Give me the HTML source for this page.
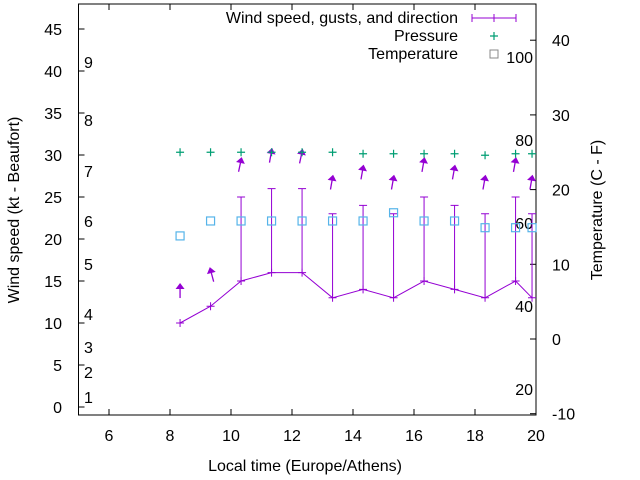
<!DOCTYPE html>
<html><head><meta charset="utf-8"><style>
body{margin:0;background:#fff}
svg{display:block;font-family:"Liberation Sans",sans-serif;font-size:16px}
</style></head><body>
<svg id="c" width="640" height="480" viewBox="0 0 640 480"></svg>
<script>
const times=[8.33,9.33,10.33,11.33,12.33,13.33,14.33,15.33,16.33,17.33,18.33,19.33,19.87];
const windSpeed=[10,12,15,16,16,13,14,13,15,14,13,15,13];
const gusts=[null,null,25,26,26,23,24,23,25,24,23,25,23];
const arrowLevel=[14.4,16.3,29.4,30.5,30.4,27.3,28.5,27.3,29.4,28.5,27.3,29.4,27.3];
const arrowTilt=[0,-15,12,10,12,10,10,10,10,10,10,10,10];
const pressure=[25,25,25,25,25,25,24.8,24.8,24.8,24.8,24.6,24.8,24.8];
const temperature=[13.8,15.8,15.8,15.8,15.8,15.8,15.8,16.9,15.8,15.8,14.9,14.9,14.9];
const xTicks=[6,8,10,12,14,16,18,20];
const yTicks=[0,5,10,15,20,25,30,35,40,45];
const y2Ticks=[-10,0,10,20,30,40];
const beaufortLabels=[["1",397],["2",372],["3",347],["4",314],["5",264],["6",221],["7",171],["8",120],["9",62]];
const fahrLabels=["20","40","60","80","100"];
const fahrVals=[20,40,60,80,100];

const L=78.5,R=536,T=4,B=415;
const X=v=>L+(v-5)*30.5;
const Y=v=>407-v*8.4;
const Y2=v=>339-v*7.47;
const F2Y=f=>Y2((f-32)*5/9);
const svg=document.getElementById('c');
const NS='http://www.w3.org/2000/svg';
function mk(t,a,p){const e=document.createElementNS(NS,t);for(const k in a)e.setAttribute(k,a[k]);(p||svg).appendChild(e);return e;}
function txt(s,x,y,anchor){const e=mk('text',{x:x,y:y,'text-anchor':anchor||'start',fill:'#000'});e.textContent=s;return e;}

const frame=mk('rect',{x:L,y:T,width:R-L,height:B-T,fill:'none',stroke:'#000','stroke-width':1});



xTicks.forEach(v=>{
 const x=X(v);
 mk('line',{x1:x,y1:B,x2:x,y2:B-6,stroke:'#000'});
 mk('line',{x1:x,y1:T,x2:x,y2:T+6,stroke:'#000'});
 const t=txt(String(v),x,441,'middle');
 
 
});
yTicks.forEach(v=>{
 const y=Y(v);
 mk('line',{x1:L,y1:y,x2:L+6,y2:y,stroke:'#000'});
 const t=txt(String(v),62,y+6,'end');
 
 
});
y2Ticks.forEach(v=>{
 const y=Y2(v);
 mk('line',{x1:R,y1:y,x2:R-6,y2:y,stroke:'#000'});
 const t=txt(String(v),552,y+6,'start');
 
 
});
beaufortLabels.forEach(b=>{
 const t=txt(b[0],84,b[1]+6,'start');
 
 
});
fahrVals.forEach((f,i)=>{
 const t=txt(fahrLabels[i],533,F2Y(f)+6,'end');
 
 
});

let yl=txt('Wind speed (kt - Beaufort)',0,0,'middle');
yl.setAttribute('transform','translate(19,210) rotate(-90)');


let y2l=txt('Temperature (C - F)',0,0,'middle');
y2l.setAttribute('transform','translate(602,210) rotate(-90)');


let xl=txt('Local time (Europe/Athens)',305,471,'middle');



const WC='#9400d3',PC='#009e73',TC='#56b4e9';
const pts=times.map((t,i)=>X(t)+','+Y(windSpeed[i])).join(' ');
const wl=mk('polyline',{points:pts,fill:'none',stroke:WC,'stroke-width':1});


times.forEach((t,i)=>{
 const x=X(t),y=Y(windSpeed[i]);
 const g=mk('g',{});
 
 
 mk('path',{d:`M${x-4} ${y}h8M${x} ${y-4}v8`,stroke:WC},g);
 if(gusts[i]!=null){
  const gy=Y(gusts[i]);
  const eb=mk('path',{d:`M${x} ${y}V${gy}M${x-4} ${gy}h8`,stroke:WC,fill:'none'});
  
  
 }
 const ay=Y(arrowLevel[i]);
 const a=mk('g',{transform:`translate(${x},${ay}) rotate(${arrowTilt[i]})`});
 
 
 mk('line',{x1:0,y1:2,x2:0,y2:12,stroke:WC,'stroke-width':1.3},a);
 mk('path',{d:'M0 -3L4.5 3H-4.5Z',fill:WC},a);
 const px=X(t),py=Y2(pressure[i]);
 const p=mk('path',{d:`M${px-4} ${py}h8M${px} ${py-4}v8`,stroke:PC,'stroke-width':1.2});
 
 
 const ty=Y2(temperature[i]);
 const s=mk('rect',{x:px-4,y:ty-4,width:8,height:8,fill:'none',stroke:TC,'stroke-width':1.2});
 
 
});

const lg=mk('g',{});


let t1=txt('Wind speed, gusts, and direction',458,23,'end');lg.appendChild(t1);
mk('path',{d:'M472 18H516M472 14v8M516 14v8M494 14v8',stroke:WC},lg);
let t2=txt('Pressure',458,41,'end');lg.appendChild(t2);
mk('path',{d:'M490 36h8M494 32v8',stroke:PC,'stroke-width':1.2},lg);
let t3=txt('Temperature',458,59,'end');lg.appendChild(t3);
mk('rect',{x:490,y:50,width:8,height:8,fill:'none',stroke:'#888'},lg);
</script>
</body></html>
